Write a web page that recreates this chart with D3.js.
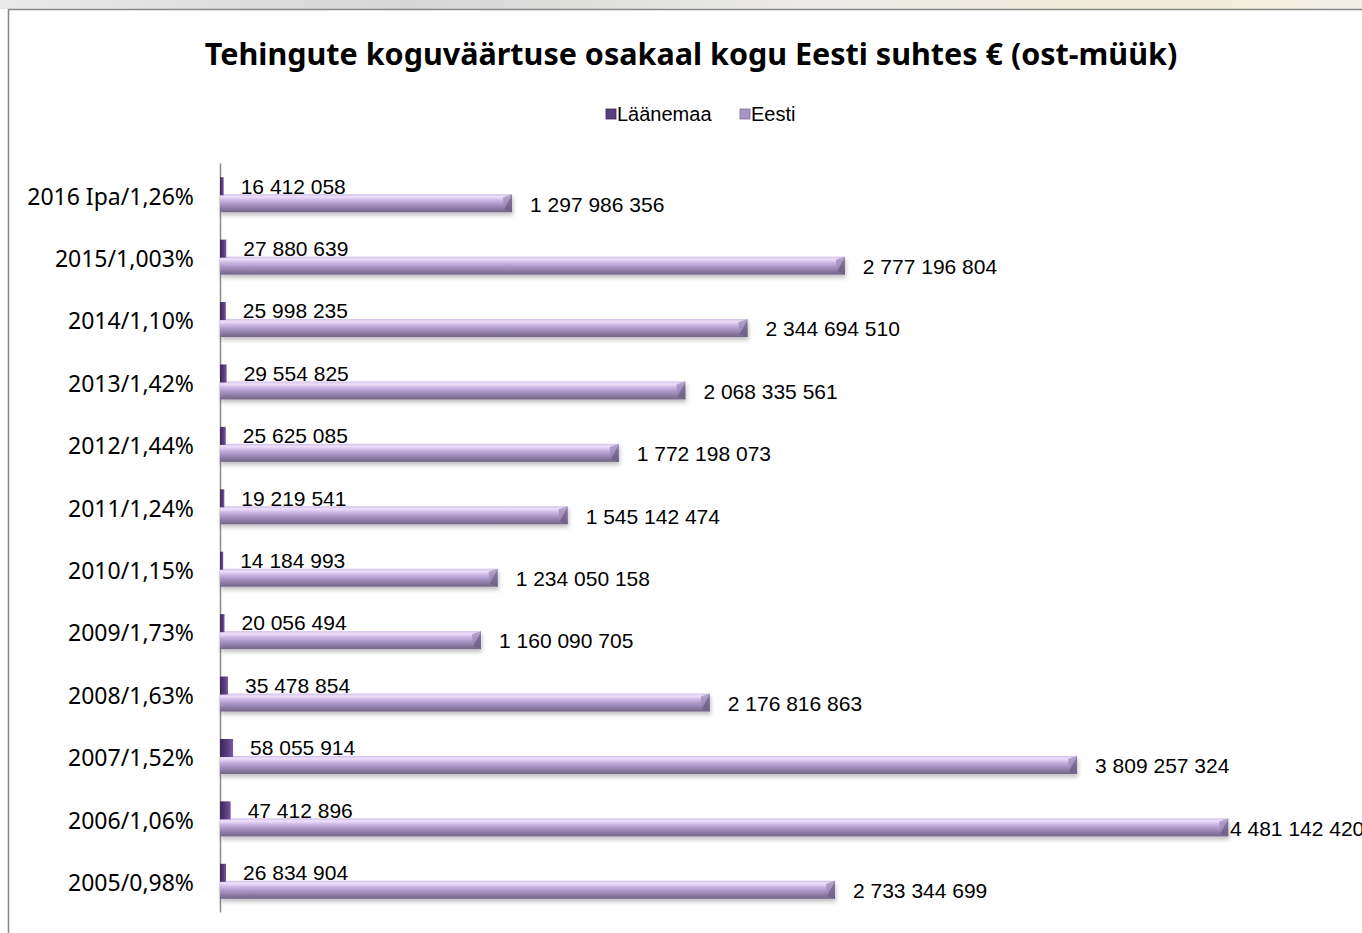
<!DOCTYPE html>
<html>
<head>
<meta charset="utf-8">
<script src="https://cdn.jsdelivr.net/npm/d3@7"></script>
<style>
  html, body { margin: 0; padding: 0; background: #fff; overflow: hidden; }
  svg { display: block; }
</style>
</head>
<body>
<div id="chart"></div>
<script>
// categories, top to bottom
const categories = [
  "2016 Ipa/1,26%", "2015/1,003%", "2014/1,10%", "2013/1,42%", "2012/1,44%", "2011/1,24%",
  "2010/1,15%", "2009/1,73%", "2008/1,63%", "2007/1,52%", "2006/1,06%", "2005/0,98%"
];
const laanemaa = [
  16412058, 27880639, 25998235, 29554825, 25625085, 19219541,
  14184993, 20056494, 35478854, 58055914, 47412896, 26834904
];
const eesti = [
  1297986356, 2777196804, 2344694510, 2068335561, 1772198073, 1545142474,
  1234050158, 1160090705, 2176816863, 3809257324, 4481142420, 2733344699
];
const seriesNames = ["Läänemaa", "Eesti"];
const titleText = "Tehingute koguväärtuse osakaal kogu Eesti suhtes € (ost-müük)";

const width = 1362, height = 933;
const fmt = v => d3.format(",")(v).replace(/,/g, " ");

const svg = d3.select("#chart").append("svg")
  .attr("width", width)
  .attr("height", height);

const defs = svg.append("defs");

// blurry strip above the chart frame
const bg = defs.append("linearGradient").attr("id", "topStrip");
bg.append("stop").attr("offset", "0%").attr("stop-color", "#e9e9e9");
bg.append("stop").attr("offset", "30%").attr("stop-color", "#d6d6d6");
bg.append("stop").attr("offset", "60%").attr("stop-color", "#ecebe8");
bg.append("stop").attr("offset", "85%").attr("stop-color", "#f3ecd6");
bg.append("stop").attr("offset", "100%").attr("stop-color", "#f1efe6");
svg.append("rect").attr("x", 0).attr("y", 0).attr("width", width).attr("height", 9)
  .attr("fill", "url(#topStrip)");

// chart frame
svg.append("rect")
  .attr("x", 8.5).attr("y", 9.5)
  .attr("width", width + 20).attr("height", height + 20)
  .attr("fill", "#fff")
  .attr("stroke", "#878787")
  .attr("stroke-width", 1.5);

// gradients for bars
const gE = defs.append("linearGradient").attr("id", "eestiGrad")
  .attr("x1", 0).attr("y1", 0).attr("x2", 0).attr("y2", 1);
[["0%", "#d2c0ea"], ["15%", "#eddffb"], ["35%", "#c9b4e4"], ["60%", "#a591c1"], ["100%", "#736487"]]
  .forEach(([o, c]) => gE.append("stop").attr("offset", o).attr("stop-color", c));

const gL = defs.append("linearGradient").attr("id", "laaneGrad")
  .attr("x1", 0).attr("y1", 0).attr("x2", 1).attr("y2", 0);
[["0%", "#3c2658"], ["60%", "#5b3f80"], ["100%", "#7a5aa3"]]
  .forEach(([o, c]) => gL.append("stop").attr("offset", o).attr("stop-color", c));

const shadow = defs.append("filter").attr("id", "shadow")
  .attr("x", "-5%").attr("y", "-50%").attr("width", "110%").attr("height", "220%");
shadow.append("feDropShadow")
  .attr("dx", 1).attr("dy", 3).attr("stdDeviation", 2)
  .attr("flood-color", "#000").attr("flood-opacity", 0.25);

// scales
const x = d3.scaleLinear().domain([0, 5e9]).range([220, 1345]);
const y = d3.scaleBand().domain(categories).range([163, 912]);
const barH = 18;

// title
svg.append("text")
  .attr("x", 691).attr("y", 65)
  .attr("text-anchor", "middle")
  .attr("font-family", "'Noto Sans', 'Open Sans', sans-serif")
  .attr("font-weight", "bold")
  .attr("font-size", 30.5)
  .attr("fill", "#000")
  .text(titleText);

// legend
const legend = svg.append("g").attr("font-family", "'Liberation Sans', Arial, sans-serif")
  .attr("font-size", 20);
const legendX = [606, 740];
seriesNames.forEach((name, i) => {
  const lg = legend.append("g").attr("transform", `translate(${legendX[i]},109)`);
  lg.append("rect").attr("width", 10).attr("height", 10)
    .attr("fill", i === 0 ? "#5a3f80" : "#a895c6")
    .attr("stroke", i === 0 ? "#3c2658" : "#7f6f98").attr("stroke-width", 0.8);
  lg.append("text").attr("x", 11).attr("y", 5).attr("dy", "0.35em").attr("fill", "#000").text(name);
});

// category axis
const axisG = svg.append("g").attr("transform", "translate(220,0)")
  .call(d3.axisLeft(y).tickSize(0).tickPadding(26));
axisG.select(".domain").attr("stroke", "#8a8a8a").attr("stroke-width", 1.5);
axisG.selectAll("text")
  .attr("font-family", "'Noto Sans', 'Open Sans', sans-serif")
  .attr("font-size", 23)
  .attr("dy", "0.45em")
  .attr("fill", "#000");

const rows = svg.append("g").selectAll("g")
  .data(categories.map((c, i) => ({ cat: c, l: laanemaa[i], e: eesti[i] })))
  .join("g")
  .attr("transform", d => `translate(0,${y(d.cat) + y.bandwidth() / 2})`);

// Eesti bars with bevelled end
rows.append("rect")
  .attr("x", x(0)).attr("y", 0)
  .attr("width", d => x(d.e) - x(0)).attr("height", barH)
  .attr("fill", "url(#eestiGrad)")
  .attr("filter", "url(#shadow)");
rows.append("path")
  .attr("d", d => {
    const xe = x(d.e);
    return `M${xe - 8},${barH - 3} L${xe},${barH} L${xe},0 Z`;
  })
  .attr("fill", "#6e5f84").attr("opacity", 0.8);
rows.append("path")
  .attr("d", d => {
    const xe = x(d.e);
    return `M${xe - 9},3 L${xe - 8},${barH - 3} L${xe},0 Z`;
  })
  .attr("fill", "#9a88b5").attr("opacity", 0.7);
rows.append("rect")
  .attr("x", x(0)).attr("y", barH - 4)
  .attr("width", d => Math.max(0, x(d.e) - x(0) - 8)).attr("height", 1)
  .attr("fill", "#8a7aa2").attr("opacity", 0.5);

// Läänemaa bars
rows.append("rect")
  .attr("x", x(0)).attr("y", -barH + 1)
  .attr("width", d => x(d.l) - x(0)).attr("height", barH)
  .attr("fill", "url(#laaneGrad)");

// value labels
const valFont = "'Liberation Sans', Arial, sans-serif";
rows.append("text")
  .attr("x", d => x(d.l) + 17)
  .attr("y", -barH / 2 + 1)
  .attr("dy", "0.35em")
  .attr("font-family", valFont).attr("font-size", 21).attr("fill", "#000")
  .text(d => fmt(d.l));
rows.append("text")
  .attr("x", d => Math.min(x(d.e) + 18, 1230))
  .attr("y", barH / 2 + 1)
  .attr("dy", "0.35em")
  .attr("font-family", valFont).attr("font-size", 21).attr("fill", "#000")
  .text(d => fmt(d.e));
</script>
</body>
</html>
